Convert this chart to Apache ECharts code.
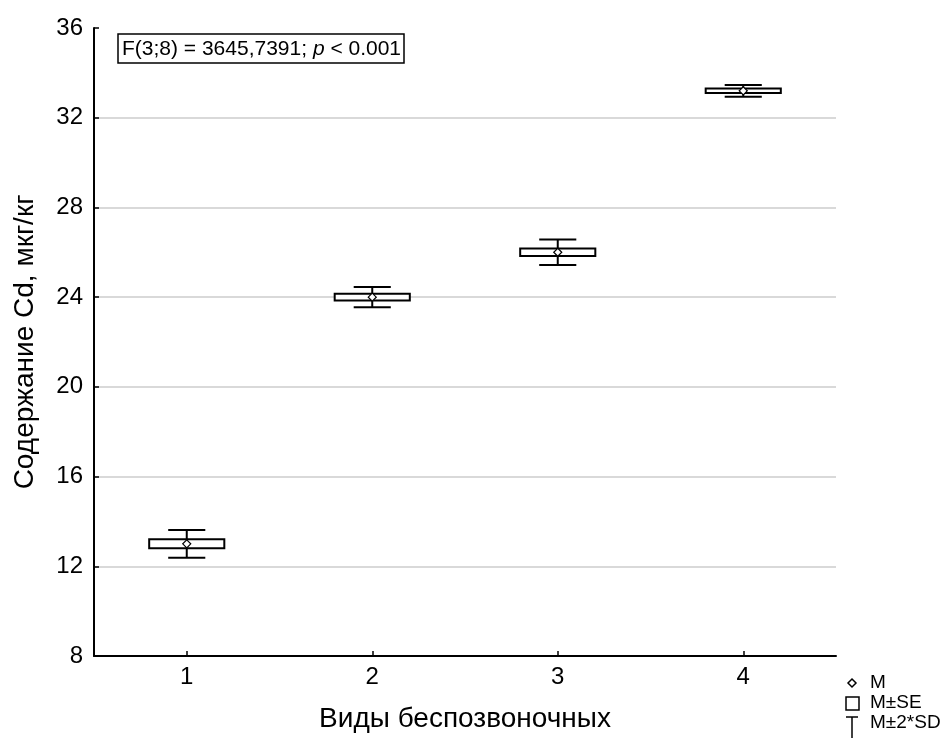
<!DOCTYPE html>
<html>
<head>
<meta charset="utf-8">
<script src="https://cdn.jsdelivr.net/npm/echarts@6/dist/echarts.min.js"></script>
<style>
  html, body { margin: 0; padding: 0; background: #fff; overflow: hidden; }
  #chart { width: 947px; height: 738px; }
</style>
</head>
<body>
<div id="chart"></div>
<script>
// Species groups and Cd content (mean, standard error, two standard deviations)
const categories = ['1', '2', '3', '4'];
const means = [13.0, 24.0, 26.0, 33.2];
const stdErrors = [0.2, 0.15, 0.17, 0.1];
const twoSD = [0.62, 0.45, 0.57, 0.26];
const yTicks = { min: 8, max: 36, step: 4 };

const FONT = '"Liberation Sans", Arial, sans-serif';

const seriesData = categories.map((c, i) => [i, means[i], stdErrors[i], twoSD[i]]);

function renderBox(params, api) {
  const i = api.value(0);
  const m = api.value(1);
  const se = api.value(2);
  const sd2 = api.value(3);
  const band = api.size([1, 0])[0];
  const boxW = band * 0.405;
  const capW = band * 0.2;
  const c = api.coord([i, m]);
  const seTop = api.coord([i, m + se])[1];
  const seBot = api.coord([i, m - se])[1];
  const wTop = api.coord([i, m + sd2])[1];
  const wBot = api.coord([i, m - sd2])[1];
  const x = c[0];
  const line = { stroke: '#000', lineWidth: 2 };
  const d = 4;
  return {
    type: 'group',
    children: [
      { type: 'line', shape: { x1: x, y1: wTop, x2: x, y2: seTop }, style: line },
      { type: 'line', shape: { x1: x, y1: seBot, x2: x, y2: wBot }, style: line },
      { type: 'line', shape: { x1: x - capW / 2, y1: wTop, x2: x + capW / 2, y2: wTop }, style: line },
      { type: 'line', shape: { x1: x - capW / 2, y1: wBot, x2: x + capW / 2, y2: wBot }, style: line },
      { type: 'rect', shape: { x: x - boxW / 2, y: seTop, width: boxW, height: seBot - seTop },
        style: { fill: '#fff', stroke: '#000', lineWidth: 2 } },
      { type: 'polygon', shape: { points: [[x, c[1] - d], [x + d, c[1]], [x, c[1] + d], [x - d, c[1]]] },
        style: { fill: '#fff', stroke: '#000', lineWidth: 1.2 } }
    ]
  };
}

const chart = echarts.init(document.getElementById('chart'), null, { renderer: 'canvas' });

chart.setOption({
  animation: false,
  backgroundColor: '#fff',
  grid: { left: 94, right: 111, top: 28, bottom: 82, containLabel: false, outerBoundsMode: 'none' },
  xAxis: {
    type: 'category',
    data: categories,
    name: 'Виды беспозвоночных',
    nameLocation: 'middle',
    nameGap: 49,
    nameTextStyle: { fontFamily: FONT, fontSize: 28, color: '#000' },
    axisLine: { lineStyle: { color: '#000', width: 2 } },
    axisTick: { show: true, inside: true, length: 5, alignWithLabel: true, lineStyle: { color: '#000', width: 1.5 } },
    axisLabel: { fontFamily: FONT, fontSize: 24, color: '#000', margin: 9 },
    splitLine: { show: false }
  },
  yAxis: {
    type: 'value',
    min: yTicks.min,
    max: yTicks.max,
    interval: yTicks.step,
    name: 'Содержание Cd, мкг/кг',
    nameLocation: 'middle',
    nameGap: 55,
    nameTextStyle: { fontFamily: FONT, fontSize: 28, color: '#000' },
    axisLine: { show: true, lineStyle: { color: '#000', width: 2 } },
    axisTick: { show: true, inside: true, length: 5, lineStyle: { color: '#000', width: 1.5 } },
    axisLabel: { fontFamily: FONT, fontSize: 24, color: '#000', margin: 11 },
    splitLine: { show: true, showMaxLine: false, lineStyle: { color: '#cccccc', width: 1.5 } }
  },
  series: [{
    type: 'custom',
    renderItem: renderBox,
    data: seriesData,
    z: 10
  }],
  graphic: [
    { type: 'rect', shape: { x: 118, y: 34, width: 286, height: 29 },
      style: { fill: '#fff', stroke: '#000', lineWidth: 1.5 }, z: 20 },
    { type: 'text', x: 122, y: 49, z: 21,
      style: {
        text: '{n|F(3;8) = 3645,7391; }{i|p}{n| < 0.001}',
        verticalAlign: 'middle',
        rich: {
          n: { fontFamily: FONT, fontSize: 21, fill: '#000' },
          i: { fontFamily: FONT, fontSize: 21, fontStyle: 'italic', fill: '#000' }
        }
      } },
    // legend: mean marker, SE box, 2SD whisker
    { type: 'polygon', z: 20, shape: { points: [[852, 679], [856, 683], [852, 687], [848, 683]] },
      style: { fill: '#fff', stroke: '#000', lineWidth: 1.5 } },
    { type: 'text', x: 870, y: 683, z: 20,
      style: { text: 'M', fontFamily: FONT, fontSize: 19, fill: '#000', verticalAlign: 'middle' } },
    { type: 'rect', z: 20, shape: { x: 846, y: 697, width: 13, height: 13 },
      style: { fill: '#fff', stroke: '#000', lineWidth: 1.5 } },
    { type: 'text', x: 870, y: 703, z: 20,
      style: { text: 'M±SE', fontFamily: FONT, fontSize: 19, fill: '#000', verticalAlign: 'middle' } },
    { type: 'line', z: 20, shape: { x1: 846, y1: 717, x2: 858, y2: 717 }, style: { stroke: '#000', lineWidth: 1.5 } },
    { type: 'line', z: 20, shape: { x1: 852, y1: 717, x2: 852, y2: 738 }, style: { stroke: '#000', lineWidth: 1.5 } },
    { type: 'text', x: 870, y: 723, z: 20,
      style: { text: 'M±2*SD', fontFamily: FONT, fontSize: 19, fill: '#000', verticalAlign: 'middle' } }
  ]
});
</script>
</body>
</html>
